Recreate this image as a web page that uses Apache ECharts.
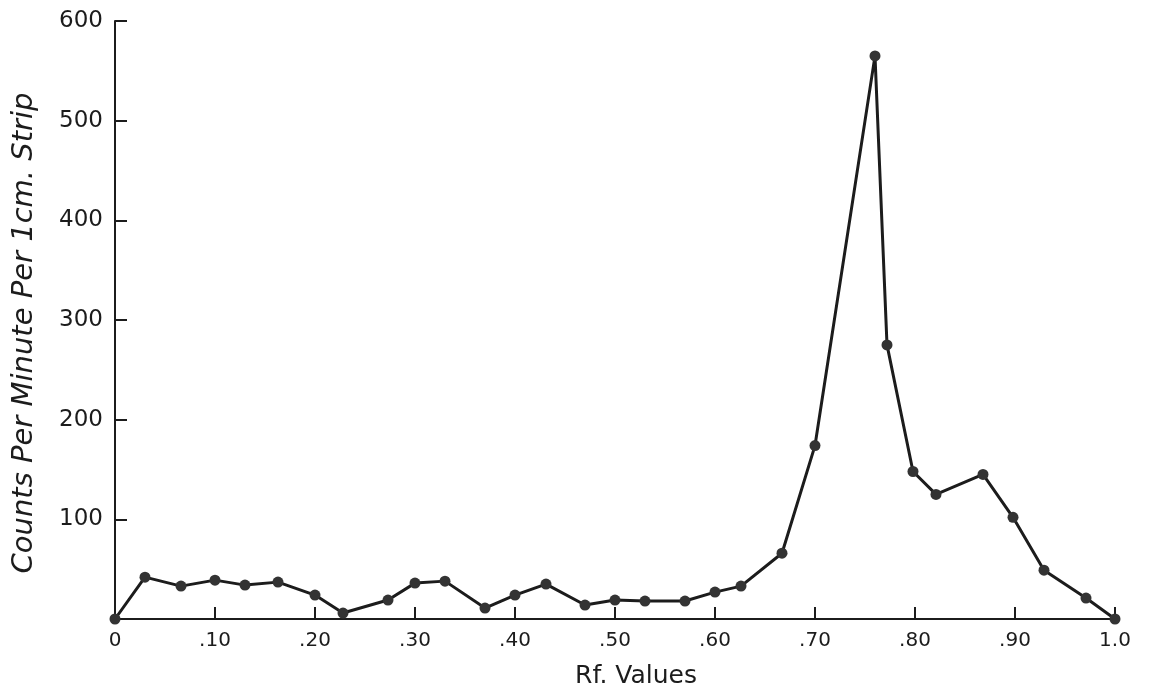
<!DOCTYPE html>
<html>
<head>
<meta charset="utf-8">
<title>Rf Values</title>
<script src="https://cdn.jsdelivr.net/npm/echarts@6.0.0/dist/echarts.min.js"></script>
<style>
	html, body { margin: 0; padding: 0; background: #fff; }
	#main { width: 1149px; height: 698px; }
</style>
</head>
<body>
<div id="main"></div>
<script>
// Rf position of each strip
var rfValues = [0, 0.03, 0.066, 0.10, 0.13, 0.163, 0.20, 0.228, 0.273, 0.30, 0.33, 0.37, 0.40, 0.431, 0.47,
	0.50, 0.53, 0.57, 0.60, 0.626, 0.667, 0.70, 0.76, 0.772, 0.798, 0.821, 0.868, 0.898, 0.929, 0.971, 1.0];
// counts per minute per 1cm strip
var counts = [0, 42, 33, 39, 34, 37, 24, 6, 19, 36, 38, 11, 24, 35, 14,
	19, 18, 18, 27, 33, 66, 174, 565, 275, 148, 125, 145, 102, 49, 21, 0];

var xTicks = [0, 0.1, 0.2, 0.3, 0.4, 0.5, 0.6, 0.7, 0.8, 0.9, 1.0];
var xTickLabels = ['0', '.10', '.20', '.30', '.40', '.50', '.60', '.70', '.80', '.90', '1.0'];

var seriesData = [];
for (var i = 0; i < rfValues.length; i++) {
	seriesData.push([rfValues[i], counts[i]]);
}

var ink = '#1c1c1c';
var font = 'DejaVu Sans';

var chart = echarts.init(document.getElementById('main'));
chart.setOption({
	backgroundColor: '#fff',
	animation: false,
	grid: {
		left: 115,
		right: 34,
		top: 21,
		bottom: 79
	},
	xAxis: {
		type: 'value',
		min: 0,
		max: 1,
		interval: 0.1,
		name: 'Rf. Values',
		nameLocation: 'middle',
		nameGap: 45,
		nameTextStyle: {
			color: ink,
			fontFamily: font,
			fontSize: 25,
			padding: [0, 0, 0, 42]
		},
		axisLine: { lineStyle: { color: ink, width: 2 } },
		axisTick: { inside: true, length: 12, lineStyle: { color: ink, width: 2 } },
		splitLine: { show: false },
		axisLabel: {
			color: ink,
			fontFamily: font,
			fontSize: 20,
			margin: 12,
			formatter: function (v) {
				for (var k = 0; k < xTicks.length; k++) {
					if (Math.abs(xTicks[k] - v) < 1e-6) return xTickLabels[k];
				}
				return '';
			}
		}
	},
	yAxis: {
		type: 'value',
		min: 0,
		max: 600,
		interval: 100,
		name: 'Counts Per Minute Per 1cm. Strip',
		nameLocation: 'middle',
		nameGap: 76,
		nameRotate: 90,
		nameTextStyle: {
			color: ink,
			fontFamily: font,
			fontStyle: 'italic',
			fontSize: 29,
			padding: [0, 0, 0, -26]
		},
		axisLine: { show: true, lineStyle: { color: ink, width: 2 } },
		axisTick: { show: true, inside: true, length: 12, lineStyle: { color: ink, width: 2 } },
		splitLine: { show: false },
		axisLabel: {
			color: ink,
			fontFamily: font,
			fontSize: 23,
			margin: 12,
			formatter: function (v) { return v === 0 ? '' : String(v); }
		}
	},
	series: [{
		type: 'line',
		data: seriesData,
		symbol: 'circle',
		symbolSize: 11,
		itemStyle: { color: '#333' },
		lineStyle: { color: ink, width: 3 }
	}]
});
</script>
</body>
</html>
